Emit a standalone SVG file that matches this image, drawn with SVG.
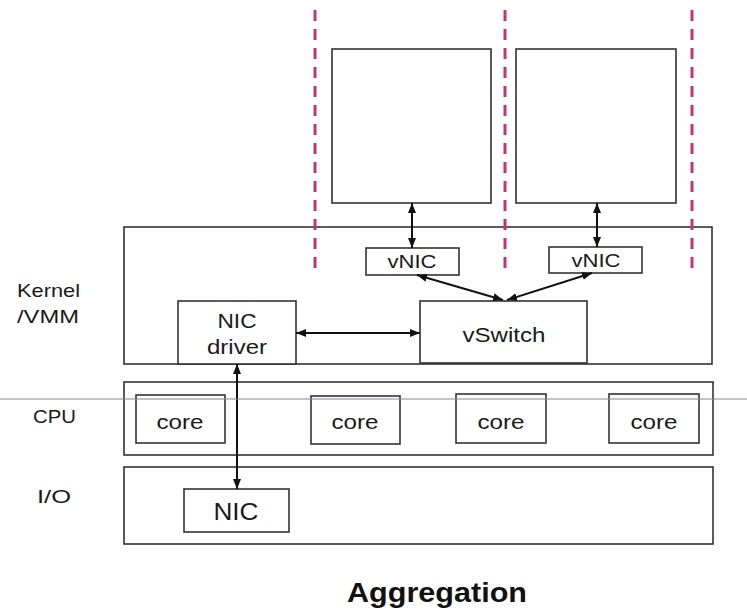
<svg xmlns="http://www.w3.org/2000/svg" width="747" height="611" viewBox="0 0 747 611">
  <style>
    .box { fill: #ffffff; stroke: #333333; stroke-width: 1.6; }
    .vm { fill: #ffffff; stroke: #333333; stroke-width: 1.6; }
    .lbl { font-family: "Liberation Sans", Arial, sans-serif; fill: #1a1a1a; }
    .mid { text-anchor: middle; }
    .conn { stroke: #111111; stroke-width: 2; fill: none; marker-start: url(#head); marker-end: url(#head); }
    .sep { stroke: #c2337a; stroke-width: 3; stroke-dasharray: 11 8; fill: none; }
    .title { font-family: "Liberation Sans", Arial, sans-serif; font-weight: bold; fill: #111111; }
  </style>
  <defs>
    <marker id="head" viewBox="0 0 10 8" refX="10" refY="4" markerWidth="10" markerHeight="8" markerUnits="userSpaceOnUse" orient="auto-start-reverse">
      <path d="M0,0 L10,4 L0,8 z" fill="#111111"/>
    </marker>
  </defs>

  <rect width="747" height="611" fill="#ffffff"/>

  <!-- layer labels -->
  <g id="layer-labels" class="lbl" font-size="19">
    <text x="17" y="297" textLength="63" lengthAdjust="spacingAndGlyphs">Kernel</text>
    <text x="17" y="323" textLength="62" lengthAdjust="spacingAndGlyphs">/VMM</text>
    <text x="33" y="423" textLength="43" lengthAdjust="spacingAndGlyphs">CPU</text>
    <text x="37" y="503" textLength="34" lengthAdjust="spacingAndGlyphs">I/O</text>
  </g>

  <!-- virtual machines -->
  <g id="vm1"><rect class="vm" x="332" y="49" width="159" height="154"/></g>
  <g id="vm2"><rect class="vm" x="516" y="49" width="160" height="154"/></g>

  <!-- kernel / VMM layer -->
  <g id="kernel"><rect class="box" x="124" y="227" width="588" height="137"/></g>

  <g id="nic-driver">
    <rect class="box" x="178" y="301" width="118" height="63"/>
    <text class="lbl mid" x="237" y="328" font-size="21" textLength="39" lengthAdjust="spacingAndGlyphs">NIC</text>
    <text class="lbl mid" x="237" y="354" font-size="21" textLength="60" lengthAdjust="spacingAndGlyphs">driver</text>
  </g>

  <g id="vswitch">
    <rect class="box" x="420" y="301" width="167" height="62"/>
    <text class="lbl mid" x="504" y="342" font-size="21" textLength="83" lengthAdjust="spacingAndGlyphs">vSwitch</text>
  </g>

  <g id="vnic1">
    <rect class="box" x="366" y="248" width="93" height="27"/>
    <text class="lbl mid" x="412" y="268" font-size="19" textLength="49" lengthAdjust="spacingAndGlyphs">vNIC</text>
  </g>
  <g id="vnic2">
    <rect class="box" x="549" y="247" width="93" height="26"/>
    <text class="lbl mid" x="596" y="267" font-size="19" textLength="49" lengthAdjust="spacingAndGlyphs">vNIC</text>
  </g>

  <!-- CPU layer -->
  <g id="cpu"><rect class="box" x="124" y="382" width="589" height="73"/></g>
  <g id="core1">
    <rect class="box" x="136" y="395" width="89" height="48"/>
    <text class="lbl mid" x="180" y="429" font-size="20" textLength="47" lengthAdjust="spacingAndGlyphs">core</text>
  </g>
  <g id="core2">
    <rect class="box" x="311" y="396" width="89" height="48"/>
    <text class="lbl mid" x="355" y="429" font-size="20" textLength="47" lengthAdjust="spacingAndGlyphs">core</text>
  </g>
  <g id="core3">
    <rect class="box" x="456" y="394" width="90" height="49"/>
    <text class="lbl mid" x="501" y="429" font-size="20" textLength="47" lengthAdjust="spacingAndGlyphs">core</text>
  </g>
  <g id="core4">
    <rect class="box" x="609" y="394" width="90" height="49"/>
    <text class="lbl mid" x="654" y="429" font-size="20" textLength="47" lengthAdjust="spacingAndGlyphs">core</text>
  </g>

  <!-- I/O layer -->
  <g id="io"><rect class="box" x="124" y="467" width="589" height="77"/></g>
  <g id="nic">
    <rect class="box" x="184" y="489" width="105" height="43"/>
    <text class="lbl mid" x="236" y="520" font-size="24" textLength="45" lengthAdjust="spacingAndGlyphs">NIC</text>
  </g>

  <!-- isolation boundaries between guests -->
  <g id="boundaries">
    <line class="sep" x1="315" y1="10" x2="315" y2="274"/>
    <line class="sep" x1="505" y1="10" x2="505" y2="274"/>
    <line class="sep" x1="692" y1="10" x2="692" y2="274"/>
  </g>

  <!-- connectors -->
  <g id="connectors">
    <line class="conn" x1="412" y1="203" x2="412" y2="248"/>
    <line class="conn" x1="597" y1="203" x2="597" y2="247"/>
    <line class="conn" x1="417" y1="275" x2="503" y2="300"/>
    <line class="conn" x1="592" y1="273" x2="507" y2="300"/>
    <line class="conn" x1="296" y1="333" x2="420" y2="333"/>
    <line class="conn" x1="237" y1="364" x2="237" y2="489"/>
  </g>

  <!-- thin horizontal rule across the CPU row -->
  <line id="rule" x1="0" y1="399" x2="747" y2="399" stroke="#8f8299" stroke-width="1.2"/>

  <text id="caption" class="title mid" x="437" y="602" font-size="27" textLength="180" lengthAdjust="spacingAndGlyphs">Aggregation</text>
</svg>
